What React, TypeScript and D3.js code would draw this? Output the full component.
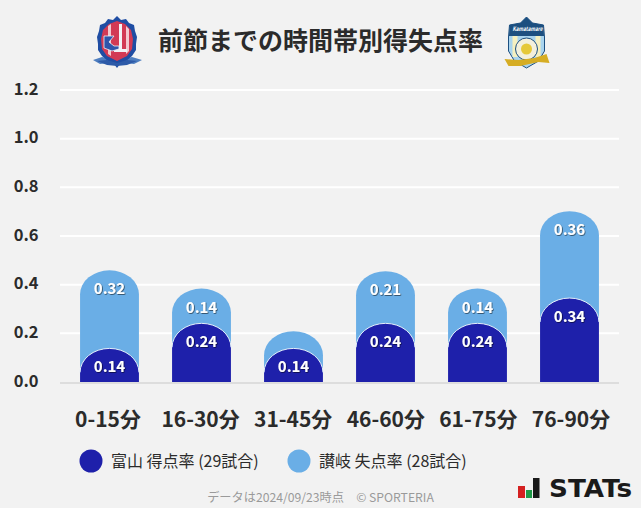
import React from "react";
import * as d3 from "d3";

const categories = ["0-15分", "16-30分", "31-45分", "46-60分", "61-75分", "76-90分"];
const toyamaValues = [0.138, 0.241, 0.138, 0.241, 0.241, 0.345];
const sanukiValues = [0.321, 0.143, 0.071, 0.214, 0.143, 0.357];
const sanukiLabels = ["0.32", "0.14", "", "0.21", "0.14", "0.36"];
const toyamaLabels = ["0.14", "0.24", "0.14", "0.24", "0.24", "0.34"];
const yTicks = [0, 0.2, 0.4, 0.6, 0.8, 1.0, 1.2];
const title = "前節までの時間帯別得失点率";
const legendA = "富山 得点率 (29試合)";
const legendB = "讃岐 失点率 (28試合)";
const footer = "データは2024/09/23時点　© SPORTERIA";

const FONT = "'Noto Sans CJK JP', 'Noto Sans', sans-serif";
const DARK = "#1e20aa";
const LIGHT = "#6aaee6";
const TEXT = "#2b2b2b";

const y = d3.scaleLinear().domain([0, 1.2]).range([382, 90]);
const x = d3.scaleBand<string>().domain(categories).range([63.5, 615.5]).paddingInner(0.36).paddingOuter(0.18);
const xLabel = d3.scalePoint<string>().domain(categories).range([108, 571]);

function capPath(cx: number, w: number, top: number, bottom: number, ry: number) {
  const l = cx - w / 2;
  const r = cx + w / 2;
  const rr = Math.min(ry, bottom - top);
  return `M${l},${bottom}V${top + rr}A${w / 2},${rr} 0 0 1 ${r},${top + rr}V${bottom}Z`;
}
function arcPath(cx: number, w: number, top: number, ry: number) {
  const l = cx - w / 2;
  const r = cx + w / 2;
  return `M${l},${top + ry}A${w / 2},${ry} 0 0 1 ${r},${top + ry}`;
}

function ToyamaLogo() {
  return (
    <g transform="translate(117,42)">
      <path d="M-24,18 L-15,15 L0,18 L15,15 L25,18 L17,22 L0,20 L-17,22 Z" fill="#4f7fc0" />
      <path d="M0,-26 L4,-22 L9,-23 L12,-19 L17,-17 L18,-11 L20,-5 L19,2 L19,8 L15,14 L9,19 L3,22 L0,26 L-3,22 L-9,19 L-15,14 L-19,8 L-19,2 L-20,-5 L-18,-11 L-17,-17 L-12,-19 L-9,-23 L-4,-22 Z" fill="#1f4da3" />
      <path d="M0,-21 L8,-18 L14,-12 L16,-3 L15,7 L10,14 L0,19 L-10,14 L-15,7 L-16,-3 L-14,-12 L-8,-18 Z" fill="#d23a55" />
      <path d="M-9,-16 L-6,-18 L-6,14 L-9,12 Z M9,-16 L12,-13 L12,9 L9,12 Z" fill="#f3c9d0" />
      <path d="M2,-18 H5 V7 H10 V10 H-3 V7 H2 Z" fill="#f2f2f6" />
      <path d="M-13,-6 H-3 L-8,0 L-3,4 L2,4 L2,7 L-5,9 L-13,6 Z" fill="#2f55ab" stroke="#f2f2f6" strokeWidth="0.8" />
      <path d="M-20,19 L-10,18 L0,21 L10,18 L20,19 L10,23 L0,24 L-10,23 Z" fill="#2d5aa8" />
    </g>
  );
}
function SanukiLogo() {
  return (
    <g transform="translate(526.5,43)">
      <path d="M0,-26 L6,-20 L17,-18 L18,-6 L18,8 L12,18 L0,25 L-12,18 L-18,8 L-18,-6 L-17,-18 L-6,-20 Z" fill="#a9d4ee" stroke="#1c4f80" strokeWidth="1" />
      <path d="M0,-26 L6,-20 L17,-18 L17.5,-7 L-17.5,-7 L-17,-18 L-6,-20 Z" fill="#1c4f80" />
      <rect x="-14" y="-7" width="5" height="21" fill="#f5f0c0" />
      <rect x="9" y="-7" width="5" height="21" fill="#f5f0c0" />
      <circle cx="0" cy="6" r="11" fill="#f3f0dc" stroke="#1c4f80" strokeWidth="1" />
      <circle cx="0" cy="6" r="5.5" fill="#e5c93a" />
      <path d="M-22,16 L-8,17 L8,15 L20,11 L23,20 L12,19 L-6,23 L-18,23 Z" fill="#d6ad24" />
      <text x="1" y="-12" textAnchor="middle" fontSize="6" fontWeight="700" fontStyle="italic" fill="#fff" fontFamily={FONT} textLength={30} lengthAdjust="spacingAndGlyphs">Kamatamare</text>
    </g>
  );
}

export default function App() {
  const w = x.bandwidth();
  const axisFilter = "url(#labelShadow)";
  return (
    <svg width={641} height={508} style={{ position: "absolute", left: 0, top: 0, background: "#f2f2f2", fontFamily: FONT }}>
      <defs>
        <filter id="labelShadow" x="-20%" y="-20%" width="140%" height="140%">
          <feDropShadow dx="0.7" dy="0.7" stdDeviation="0.4" floodColor="#000" floodOpacity="0.7" />
        </filter>
      </defs>
      <rect width={641} height={508} fill="#f2f2f2" />
      <ToyamaLogo />
      <text x={320.5} y={50} textAnchor="middle" fontSize={25} fontWeight={700} fill={TEXT}>{title}</text>
      <SanukiLogo />

      {yTicks.map((t) => (
        <g key={t}>
          {t > 0 && <line x1={60} x2={619} y1={y(t)} y2={y(t)} stroke="#ffffff" strokeWidth={2} />}
          <text x={38.5} y={y(t) + 4.5} textAnchor="end" fontSize={16.5} fontWeight={700} fill={TEXT}>{t.toFixed(1)}</text>
        </g>
      ))}
      <line x1={60} x2={619} y1={y(0) + 1} y2={y(0) + 1} stroke="#dddddd" strokeWidth={2} />

      {categories.map((c, i) => {
        const cx = (x(c) as number) + w / 2;
        const topA = y(toyamaValues[i]);
        const topB = y(toyamaValues[i] + sanukiValues[i]);
        const ryB = Math.min(24, topA - topB + 24);
        return (
          <g key={c}>
            <path d={capPath(cx, w, topB, topA + 24, ryB)} fill={LIGHT} />
            <path d={capPath(cx, w, topA, y(0), 24)} fill={DARK} />
            <path d={arcPath(cx, w, topA, 24)} fill="none" stroke="#e4eefa" strokeWidth={1} />
            <text x={cx} y={topA + 24} textAnchor="middle" fontSize={15} fontWeight={700} fill="#fff" filter={axisFilter}>{toyamaLabels[i]}</text>
            {sanukiLabels[i] && (
              <text x={cx} y={topB + 24} textAnchor="middle" fontSize={15} fontWeight={700} fill="#fff" filter={axisFilter}>{sanukiLabels[i]}</text>
            )}
            <text x={xLabel(c)} y={427} textAnchor="middle" fontSize={21} fontWeight={700} fill={TEXT}>{c}</text>
          </g>
        );
      })}

      <circle cx={91} cy={461} r={11.5} fill={DARK} />
      <text x={111} y={466.5} fontSize={16} fill={TEXT}>{legendA}</text>
      <circle cx={299} cy={461} r={11.5} fill={LIGHT} />
      <text x={319} y={466.5} fontSize={16} fill={TEXT}>{legendB}</text>

      <text x={320.5} y={502} textAnchor="middle" fontSize={12.2} fill="#9a9a9a">{footer}</text>

      <g>
        <rect x={518} y={486} width={7} height={12} fill="#d42020" />
        <rect x={526} y={490} width={6} height={8} fill="#1f9a48" />
        <rect x={533} y={478} width={6.5} height={20} fill="#1a1a1a" />
        <text x={549} y={497} fontSize={25} fontWeight={700} fill="#1a1a1a" fontFamily="'DejaVu Sans', sans-serif" textLength={83} lengthAdjust="spacingAndGlyphs">STATs</text>
      </g>
    </svg>
  );
}
